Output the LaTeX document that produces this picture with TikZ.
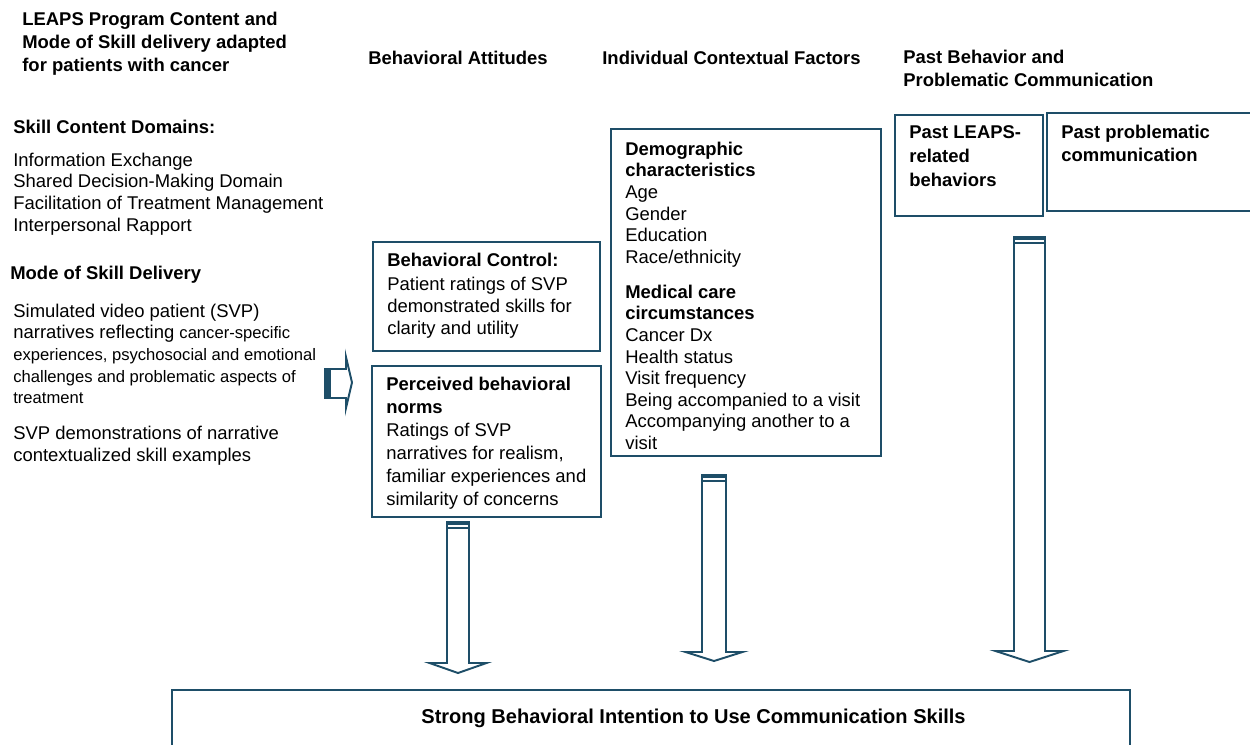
\documentclass[tikz,border=0pt]{standalone}
\usepackage{fontspec}
\setmainfont{Liberation Sans}
\definecolor{navy}{RGB}{30,78,104}
\newcommand\fs[2]{\fontsize{#1}{#2}\selectfont}
\begin{document}
\begin{tikzpicture}[x=0.02cm,y=-0.02cm,line join=miter,
	box/.style={draw=navy,line width=1.1pt},
	arr/.style={draw=navy,line width=1.1pt,fill=white},
	txt/.style={anchor=north west,inner sep=0pt,align=left,font=\fs{10.5}{12.3}},
	hd/.style={txt,font=\fs{10.5}{13.1}\bfseries}]
	\useasboundingbox (0,0) rectangle (1250,744);
	\clip (0,0) rectangle (1250,744);
	% column heads
	\node[hd] (prog) at (22,11.5) {LEAPS Program Content and\\Mode of Skill delivery adapted\\for patients with cancer};
	\node[hd] (att) at (368,50.5) {Behavioral Attitudes};
	\node[hd] (ctx) at (602,50.5) {Individual Contextual Factors};
	\node[hd] (past) at (903,49.5) {Past Behavior and\\Problematic Communication};
	% left column
	\node[hd] (dom) at (13,119.5) {Skill Content Domains:};
	\node[txt] (domlist) at (13,152.5) {Information Exchange\\Shared Decision-Making Domain\\Facilitation of Treatment Management\\Interpersonal Rapport};
	\node[hd] (mode) at (10,265.5) {Mode of Skill Delivery};
	\node[txt] (svp) at (13,303.5) {Simulated video patient (SVP)\\narratives reflecting {\fs{9.45}{12.3}cancer-specific}\\{\fs{9.45}{12.3}experiences, psychosocial and emotional}\\{\fs{9.45}{12.3}challenges and problematic aspects of}\\{\fs{9.45}{12.3}treatment}};
	\node[txt,font=\fs{10.5}{12.8}] (demo) at (13,425.5) {SVP demonstrations of narrative\\contextualized skill examples};
	\draw[arr] (325,369)--(346,369)--(346,357)--(352,382.5)--(346,408)--(346,398)--(325,398)--cycle;
	\fill[navy] (324.5,368.5) rectangle (331,398.5);
	% attitude boxes
	\draw[box] (373,242) rectangle (600,351);
	\node[txt,font=\fs{10.5}{12.5}] (ctrl) at (387,252.5) {\textbf{Behavioral Control:}\\[1.5pt]Patient ratings of SVP\\demonstrated skills for\\clarity and utility};
	\draw[box] (372,366) rectangle (601,517);
	\node[txt,font=\fs{10.5}{13.1}] (norms) at (386,376.5) {\textbf{Perceived behavioral}\\\textbf{norms}\\Ratings of SVP\\narratives for realism,\\familiar experiences and\\similarity of concerns};
	% contextual factors
	\draw[box] (611,129) rectangle (881,456);
	\node[txt] (chars) at (625,141.5) {\textbf{Demographic}\\\textbf{characteristics}\\Age\\Gender\\Education\\Race/ethnicity\\[7.6pt]\textbf{Medical care}\\\textbf{circumstances}\\Cancer Dx\\Health status\\Visit frequency\\Being accompanied to a visit\\Accompanying another to a\\visit};
	% past behavior
	\draw[box] (895,115) rectangle (1043,216);
	\node[hd,font=\fs{10.5}{13.7}\bfseries] (leaps) at (909,125.5) {Past LEAPS-\\related\\behaviors};
	\draw[box] (1047,113) rectangle (1262,211);
	\node[hd] (prob) at (1061,124.5) {Past problematic\\communication};
	% block arrows down
	\foreach \cx/\sy/\hy/\ty/\sw/\hw in {458/522/663/673/11/28.5,714/475/652/661/12/28.5,1029.5/237/651/662/15.5/34}{
		\draw[arr] (\cx-\sw,\sy)--(\cx-\sw,\hy)--(\cx-\hw,\hy)--(\cx,\ty)--(\cx+\hw,\hy)--(\cx+\sw,\hy)--(\cx+\sw,\sy)--cycle;
		\fill[navy] (\cx-\sw,\sy) rectangle (\cx+\sw,\sy+3);
		\draw[navy,line width=1pt] (\cx-\sw,\sy+6)--(\cx+\sw,\sy+6);
	}
	\draw[box] (172,690) rectangle (1130,770);
	\node[anchor=base,font=\fs{11.4}{13}\bfseries] (goal) at (693.5,723) {Strong Behavioral Intention to Use Communication Skills};
\end{tikzpicture}
\end{document}
